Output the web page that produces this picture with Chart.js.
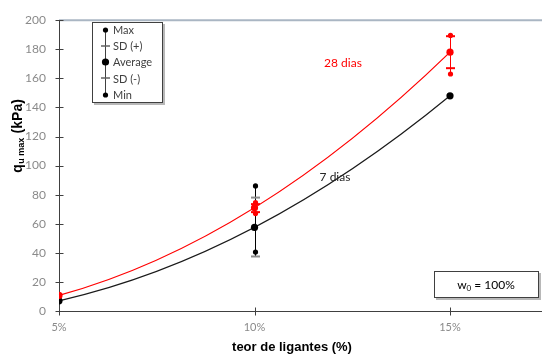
<!DOCTYPE html>
<html>
<head>
<meta charset="utf-8">
<script src="https://cdn.jsdelivr.net/npm/chart.js@4"></script>
<style>
  html, body { margin: 0; padding: 0; background: #fff; overflow: hidden; }
  #wrap { width: 542px; height: 360px; position: relative; }
</style>
</head>
<body>
<div id="wrap"><canvas id="c" width="542" height="360"></canvas></div>
<script>
// Teor de ligantes (%) e resistência média qu max (kPa)
const teor = [5, 10, 15];
const media7 = [7, 57.5, 148];
const media28 = [10.7, 71, 178];

// Estatísticas dos ensaios: máximo, média + DP, média - DP, mínimo
const max7 = [7, 86, 148];
const sdMais7 = [7, 78, 148];
const sdMenos7 = [7, 37.5, 148];
const min7 = [7, 40.5, 148];

const max28 = [10.7, 74.5, 189.5];
const sdMais28 = [10.7, 73.5, 189];
const sdMenos28 = [10.7, 68, 167];
const min28 = [10.7, 67, 163];

const yTicks = [0, 20, 40, 60, 80, 100, 120, 140, 160, 180, 200];
const xTicks = [5, 10, 15];

const FONT = 'Lato, "Open Sans", sans-serif';

function pts(xs, ys) { return xs.map((x, i) => ({ x: x, y: ys[i] })); }

const series = [
  { cor: '#000000', linha: '#1a1a1a', sdCor: '#8c8c8c', media: media7, max: max7, sdp: sdMais7, sdm: sdMenos7, min: min7 },
  { cor: '#ff0000', linha: '#ff0000', sdCor: '#ff0000', media: media28, max: max28, sdp: sdMais28, sdm: sdMenos28, min: min28 }
];

// Linha de tendência polinomial (2º grau) pelas três médias:
// com pontos igualmente espaçados, a parábola é exatamente uma curva de Bézier quadrática.
const tendencia = {
  id: 'tendencia',
  beforeDatasetsDraw(chart) {
    const { ctx, scales: { x, y } } = chart;
    ctx.save();
    series.forEach(s => {
      const m = s.media;
      const ctrl = 2 * m[1] - (m[0] + m[2]) / 2;
      ctx.strokeStyle = s.linha;
      ctx.lineWidth = 1.2;
      ctx.beginPath();
      ctx.moveTo(x.getPixelForValue(teor[0]), y.getPixelForValue(m[0]));
      ctx.quadraticCurveTo(x.getPixelForValue(teor[1]), y.getPixelForValue(ctrl),
                           x.getPixelForValue(teor[2]), y.getPixelForValue(m[2]));
      ctx.stroke();
    });
    ctx.restore();
  }
};

// Barras de dispersão (máx/mín e ±DP) desenhadas sobre as escalas
const errorBars = {
  id: 'errorBars',
  afterDatasetsDraw(chart) {
    const { ctx, scales: { x, y } } = chart;
    ctx.save();
    series.forEach(s => {
      teor.forEach((t, i) => {
        const hi = Math.max(s.max[i], s.sdp[i]);
        const lo = Math.min(s.min[i], s.sdm[i]);
        if (hi - lo < 0.01) return;
        const px = Math.round(x.getPixelForValue(t)) + 0.5;
        ctx.strokeStyle = s.cor;
        ctx.lineWidth = 1;
        ctx.beginPath();
        ctx.moveTo(px, y.getPixelForValue(hi));
        ctx.lineTo(px, y.getPixelForValue(lo));
        ctx.stroke();
        ctx.strokeStyle = s.sdCor;
        ctx.lineWidth = 2;
        [s.sdp[i], s.sdm[i]].forEach(v => {
          const py = y.getPixelForValue(v);
          ctx.beginPath();
          ctx.moveTo(px - 4.5, py);
          ctx.lineTo(px + 4.5, py);
          ctx.stroke();
        });
        ctx.fillStyle = s.cor;
        [s.max[i], s.min[i]].forEach(v => {
          ctx.beginPath();
          ctx.arc(px, y.getPixelForValue(v), 2.6, 0, Math.PI * 2);
          ctx.fill();
        });
      });
    });
    ctx.restore();
  }
};

// Eixos com marcas cruzadas, títulos, legenda e anotações
const decor = {
  id: 'decor',
  beforeDatasetsDraw(chart) {
    const { ctx, chartArea: a, scales: { x, y } } = chart;
    ctx.save();
    // linha superior da área do gráfico
    ctx.strokeStyle = '#aab6c3';
    ctx.lineWidth = 2;
    ctx.beginPath();
    ctx.moveTo(a.left, a.top);
    ctx.lineTo(542, a.top);
    ctx.stroke();
    // eixos
    ctx.strokeStyle = '#404040';
    ctx.lineWidth = 1;
    const x0 = Math.round(a.left) + 0.5;
    const y0 = Math.round(a.bottom) + 0.5;
    ctx.beginPath();
    ctx.moveTo(x0, a.top);
    ctx.lineTo(x0, y0);
    ctx.lineTo(542, y0);
    ctx.stroke();
    yTicks.forEach(v => {
      const py = Math.round(y.getPixelForValue(v)) + 0.5;
      ctx.beginPath();
      ctx.moveTo(x0 - 4, py);
      ctx.lineTo(x0 + 4, py);
      ctx.stroke();
    });
    xTicks.forEach(v => {
      const px = Math.round(x.getPixelForValue(v)) + 0.5;
      ctx.beginPath();
      ctx.moveTo(px, y0 - 4);
      ctx.lineTo(px, y0 + 4);
      ctx.stroke();
    });
    ctx.restore();
  },
  afterDraw(chart) {
    const { ctx } = chart;
    ctx.save();
    ctx.textBaseline = 'middle';

    // título do eixo y: q_u max (kPa)
    ctx.save();
    ctx.translate(18, 136);
    ctx.rotate(-Math.PI / 2);
    ctx.fillStyle = '#000';
    const f1 = 'bold 14px "Liberation Sans", Arial, sans-serif';
    const f2 = 'bold 9px "Liberation Sans", Arial, sans-serif';
    ctx.font = f1; const wq = ctx.measureText('q').width;
    ctx.font = f2; const ws = ctx.measureText('u max').width;
    ctx.font = f1; const wk = ctx.measureText(' (kPa)').width;
    let sx = -(wq + ws + wk + 1) / 2;
    ctx.font = f1; ctx.textAlign = 'left';
    ctx.fillText('q', sx, 0);
    ctx.font = f2; ctx.fillText('u max', sx + wq + 0.5, 4);
    ctx.font = f1; ctx.fillText(' (kPa)', sx + wq + ws + 1, 0);
    ctx.restore();

    // título do eixo x
    ctx.fillStyle = '#000';
    ctx.textAlign = 'center';
    ctx.font = 'bold 13px "Liberation Sans", Arial, sans-serif';
    ctx.fillText('teor de ligantes (%)', 292, 347);

    // rótulos das curvas
    ctx.font = '12px ' + FONT;
    ctx.fillStyle = '#ff0000';
    ctx.fillText('28 dias', 343, 63);
    ctx.fillStyle = '#262626';
    ctx.fillText('7 dias', 335, 177);

    // legenda dos símbolos
    ctx.fillStyle = 'rgba(0,0,0,0.28)';
    ctx.fillRect(94, 24, 71, 81);
    ctx.fillStyle = '#fff';
    ctx.fillRect(92, 22, 71, 81);
    ctx.strokeStyle = '#404040';
    ctx.lineWidth = 1;
    ctx.strokeRect(92.5, 22.5, 70, 80);
    ctx.beginPath();
    ctx.moveTo(105.5, 30);
    ctx.lineTo(105.5, 95);
    ctx.stroke();
    ctx.fillStyle = '#000';
    [[30, 2.6], [62, 3.6], [95, 2.6]].forEach(([py, r]) => {
      ctx.beginPath();
      ctx.arc(105.5, py, r, 0, Math.PI * 2);
      ctx.fill();
    });
    ctx.strokeStyle = '#606060';
    ctx.lineWidth = 1.5;
    [46, 78].forEach(py => {
      ctx.beginPath();
      ctx.moveTo(101, py);
      ctx.lineTo(110, py);
      ctx.stroke();
    });
    ctx.fillStyle = '#404040';
    ctx.font = '11px ' + FONT;
    ctx.textAlign = 'left';
    [['Max', 30], ['SD (+)', 46], ['Average', 62], ['SD (-)', 79], ['Min', 95]].forEach(([t, py]) => {
      ctx.fillText(t, 113, py);
    });

    // caixa do teor de umidade
    ctx.fillStyle = 'rgba(0,0,0,0.28)';
    ctx.fillRect(436, 273, 105, 27);
    ctx.fillStyle = '#fff';
    ctx.fillRect(434, 271, 105, 27);
    ctx.strokeStyle = '#404040';
    ctx.lineWidth = 1;
    ctx.strokeRect(434.5, 271.5, 104, 26);
    ctx.fillStyle = '#000';
    ctx.font = '12px ' + FONT;
    const a = 'w', b = '0', c = ' = 100%';
    const wa = ctx.measureText(a).width, wc = ctx.measureText(c).width;
    ctx.font = '8px ' + FONT; const wb = ctx.measureText(b).width;
    let tx = 486 - (wa + wb + wc) / 2;
    ctx.font = '12px ' + FONT; ctx.fillText(a, tx, 285);
    ctx.font = '8px ' + FONT; ctx.fillText(b, tx + wa, 288.5);
    ctx.font = '12px ' + FONT; ctx.fillText(c, tx + wa + wb, 285);
    ctx.restore();
  }
};

new Chart(document.getElementById('c'), {
  type: 'line',
  data: {
    datasets: [
      {
        label: '28 dias',
        data: pts(teor, media28),
        backgroundColor: '#ff0000',
        borderColor: '#ff0000',
        showLine: false,
        pointRadius: 3.6,
        pointBorderWidth: 0
      },
      {
        label: '7 dias',
        data: pts(teor, media7),
        backgroundColor: '#000000',
        borderColor: '#000000',
        showLine: false,
        pointRadius: 3.6,
        pointBorderWidth: 0
      }
    ]
  },
  options: {
    responsive: false,
    animation: false,
    events: [],
    layout: { padding: { top: 12, left: 0, right: 0, bottom: 0 } },
    plugins: { legend: { display: false }, tooltip: { enabled: false } },
    scales: {
      x: {
        type: 'linear',
        min: 5,
        max: 17.25,
        afterBuildTicks: s => { s.ticks = xTicks.map(v => ({ value: v })); },
        afterFit: s => { s.height = 49; },
        grid: { display: false, drawTicks: false },
        border: { display: false },
        ticks: {
          padding: 10,
          color: '#8a8a8a',
          font: { family: FONT, size: 11 },
          callback: v => v + '%'
        }
      },
      y: {
        min: 0,
        max: 200,
        afterBuildTicks: s => { s.ticks = yTicks.map(v => ({ value: v })); },
        afterFit: s => { s.width = 59; },
        grid: { display: false, drawTicks: false },
        border: { display: false },
        ticks: {
          padding: 13,
          color: '#8a8a8a',
          font: { family: FONT, size: 12 }
        }
      }
    }
  },
  plugins: [decor, tendencia, errorBars]
});
</script>
</body>
</html>
